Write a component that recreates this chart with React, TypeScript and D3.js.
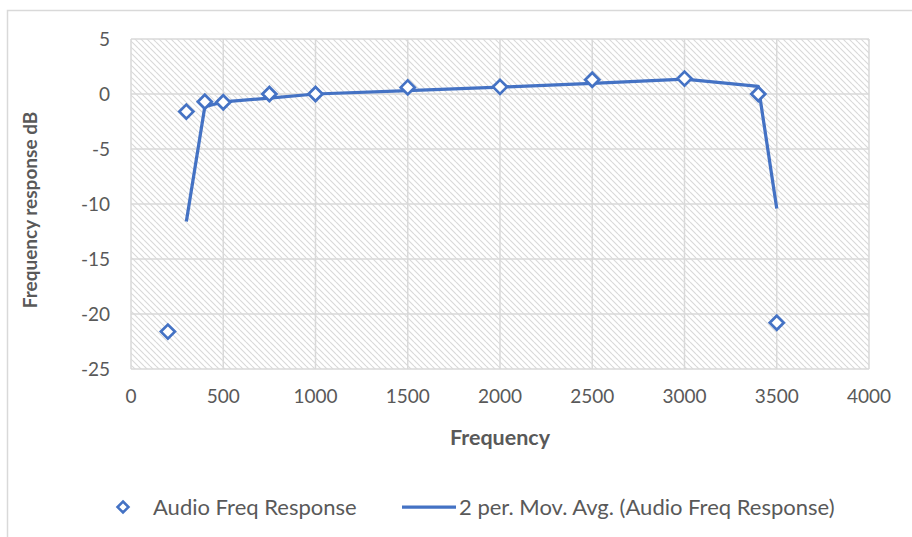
import * as d3 from 'd3';

// Audio frequency response measurements
const freqs = [200, 300, 400, 500, 750, 1000, 1500, 2000, 2500, 3000, 3400, 3500];
const responseDb = [-21.6, -1.6, -0.7, -0.75, 0.0, 0.0, 0.6, 0.65, 1.3, 1.4, 0.0, -20.8];

const xTicks = [0, 500, 1000, 1500, 2000, 2500, 3000, 3500, 4000];
const yTicks = [5, 0, -5, -10, -15, -20, -25];

const seriesName = 'Audio Freq Response';
const trendName = '2 per. Mov. Avg. (Audio Freq Response)';

const BLUE = '#4472C4';
const TEXT = '#595959';
const GRID = '#d9d9d9';
const FONT = 'Lato, "Open Sans", sans-serif';

const W = 912;
const H = 537;
const plot = { left: 131, right: 869, top: 39, bottom: 369 };

export default function App() {
  const x = d3.scaleLinear().domain([0, 4000]).range([plot.left, plot.right]);
  const y = d3.scaleLinear().domain([-25, 5]).range([plot.bottom, plot.top]);

  const points = freqs.map((f, i) => ({ f, v: responseDb[i] }));
  // 2-period moving average trendline, as Excel draws it
  const avg = points.slice(1).map((p, i) => ({ f: p.f, v: (p.v + points[i].v) / 2 }));

  const line = d3.line<{ f: number; v: number }>()
    .x(d => x(d.f))
    .y(d => y(d.v));

  const diamond = (cx: number, cy: number, r: number) =>
    `M${cx},${cy - r}L${cx + r},${cy}L${cx},${cy + r}L${cx - r},${cy}Z`;

  return (
    <>
      <style>{`body{margin:0}`}</style>
      <svg width={W} height={H} style={{ display: 'block', fontFamily: FONT }}>
        <defs>
          <pattern id="hatch" width="6" height="6" patternUnits="userSpaceOnUse">
            <rect width="6" height="6" fill="#ffffff" />
            <path d="M0,0L6,6M-3,3L0,6M3,-3L6,0" stroke="#d9d9d9" strokeWidth="1.1" />
          </pattern>
        </defs>
        <rect x={0} y={0} width={W} height={H} fill="#ffffff" />
        {/* chart frame */}
        <path d={`M7.5,${H}V10.5H${W}`} fill="none" stroke="#d9d9d9" strokeWidth={1.5} />

        {/* plot area */}
        <rect x={plot.left} y={plot.top} width={plot.right - plot.left}
          height={plot.bottom - plot.top} fill="url(#hatch)" />

        {xTicks.map(t => (
          <line key={'gx' + t} x1={x(t)} x2={x(t)} y1={plot.top} y2={plot.bottom}
            stroke={GRID} strokeWidth={1.5} />
        ))}
        {yTicks.map(t => (
          <line key={'gy' + t} x1={plot.left} x2={plot.right} y1={y(t)} y2={y(t)}
            stroke={GRID} strokeWidth={1.5} />
        ))}

        {/* tick labels */}
        {yTicks.map(t => (
          <text key={'ty' + t} x={110} y={y(t)} dy="0.35em" textAnchor="end"
            fontSize={19} fill={TEXT}>{t}</text>
        ))}
        {xTicks.map(t => (
          <text key={'tx' + t} x={x(t)} y={plot.bottom + 34} textAnchor="middle"
            fontSize={19} fill={TEXT}>{t}</text>
        ))}

        {/* axis titles */}
        <text x={500} y={445} textAnchor="middle" fontSize={21.5} fontWeight="bold"
          fill={TEXT}>Frequency</text>
        <text transform={`translate(37,210) rotate(-90)`}
          textAnchor="middle" fontSize={19} fontWeight="bold" fill={TEXT}>
          Frequency response dB
        </text>

        {/* moving average */}
        <path d={line(avg) ?? ''} fill="none" stroke={BLUE} strokeWidth={3.25}
          strokeLinejoin="round" />

        {/* markers */}
        {points.map(p => (
          <path key={'m' + p.f} d={diamond(x(p.f), y(p.v), 7)} fill="#ffffff"
            stroke={BLUE} strokeWidth={2.75} />
        ))}

        {/* legend */}
        <path d={diamond(123, 507, 5.5)} fill="#ffffff" stroke={BLUE} strokeWidth={2.5} />
        <text x={153} y={507} dy="0.35em" fontSize={22} fill={TEXT}>{seriesName}</text>
        <line x1={402} x2={456} y1={507} y2={507} stroke={BLUE} strokeWidth={3.25} />
        <text x={459} y={507} dy="0.35em" fontSize={22} fill={TEXT}>{trendName}</text>
      </svg>
    </>
  );
}
